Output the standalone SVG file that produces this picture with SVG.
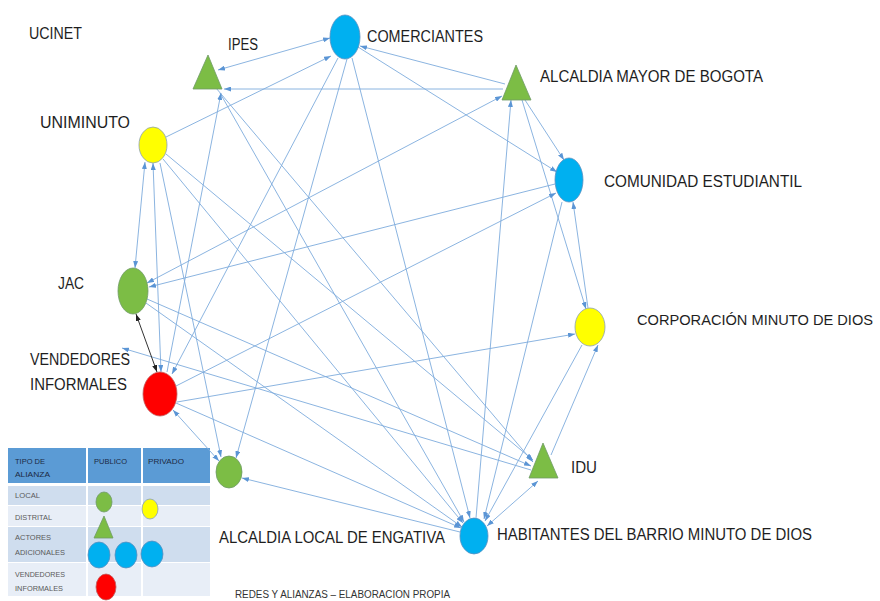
<svg xmlns="http://www.w3.org/2000/svg" width="880" height="601" viewBox="0 0 880 601">
<style>
.lbl{font-family:"Liberation Sans",Arial,sans-serif;font-size:16px;fill:#1e1e1e}
.e{stroke:#7EACDD;stroke-width:0.9;fill:none;marker-end:url(#ah)}
.b{marker-start:url(#ahs)}
.blue{fill:#00B0F0;stroke:#5a8fc0;stroke-width:0.8}
.yel{fill:#FFFF00;stroke:#8aa0b8;stroke-width:0.8}
.grn{fill:#7CBD45;stroke:#6f9a66;stroke-width:0.8}
.red{fill:#FF0000;stroke:#c06060;stroke-width:0.8}
.lt{font-family:"Liberation Sans",Arial,sans-serif;font-size:8px;fill:#5a5a5a}
.lh{font-family:"Liberation Sans",Arial,sans-serif;font-size:8px;fill:#1c2a44}
</style>
<defs>
<marker id="ah" viewBox="0 0 7 5" refX="7" refY="2.5" markerWidth="7" markerHeight="5" markerUnits="userSpaceOnUse" orient="auto"><path d="M0,0 L7,2.5 L0,5 z" fill="#5B95D5"/></marker>
<marker id="ahs" viewBox="0 0 7 5" refX="7" refY="2.5" markerWidth="7" markerHeight="5" markerUnits="userSpaceOnUse" orient="auto-start-reverse"><path d="M0,0 L7,2.5 L0,5 z" fill="#5B95D5"/></marker>
<marker id="bk" viewBox="0 0 7 5" refX="7" refY="2.5" markerWidth="7" markerHeight="5" markerUnits="userSpaceOnUse" orient="auto-start-reverse"><path d="M0,0 L7,2.5 L0,5 z" fill="#222"/></marker>
</defs>
<rect width="880" height="601" fill="#ffffff"/>
<text class="lbl" x="29" y="39" textLength="53" lengthAdjust="spacingAndGlyphs">UCINET</text>

<g id="legend">
<rect x="8" y="448" width="78" height="35" fill="#5B9BD5"/>
<rect x="88" y="448" width="53" height="35" fill="#5B9BD5"/>
<rect x="143" y="448" width="67" height="35" fill="#5B9BD5"/>
<rect x="8" y="486" width="78" height="19" fill="#CFDDEE"/>
<rect x="88" y="486" width="53" height="19" fill="#CFDDEE"/>
<rect x="143" y="486" width="67" height="19" fill="#CFDDEE"/>
<rect x="8" y="506" width="78" height="20" fill="#E8EEF7"/>
<rect x="88" y="506" width="53" height="20" fill="#E8EEF7"/>
<rect x="143" y="506" width="67" height="20" fill="#E8EEF7"/>
<rect x="8" y="527" width="78" height="35" fill="#CFDDEE"/>
<rect x="88" y="527" width="53" height="35" fill="#CFDDEE"/>
<rect x="143" y="527" width="67" height="35" fill="#CFDDEE"/>
<rect x="8" y="563" width="78" height="33" fill="#E8EEF7"/>
<rect x="88" y="563" width="53" height="33" fill="#E8EEF7"/>
<rect x="143" y="563" width="67" height="33" fill="#E8EEF7"/>
<text class="lh" x="15" y="464" textLength="30" lengthAdjust="spacingAndGlyphs">TIPO DE</text>
<text class="lh" x="15" y="477" textLength="35" lengthAdjust="spacingAndGlyphs">ALIANZA</text>
<text class="lh" x="94" y="464" textLength="33" lengthAdjust="spacingAndGlyphs">PUBLICO</text>
<text class="lh" x="148" y="464" textLength="36" lengthAdjust="spacingAndGlyphs">PRIVADO</text>
<text class="lt" x="15" y="498" textLength="25" lengthAdjust="spacingAndGlyphs">LOCAL</text>
<text class="lt" x="15" y="520" textLength="37" lengthAdjust="spacingAndGlyphs">DISTRITAL</text>
<text class="lt" x="15" y="540" textLength="36" lengthAdjust="spacingAndGlyphs">ACTORES</text>
<text class="lt" x="15" y="555" textLength="50" lengthAdjust="spacingAndGlyphs">ADICIONALES</text>
<text class="lt" x="15" y="577" textLength="50" lengthAdjust="spacingAndGlyphs">VENDEDORES</text>
<text class="lt" x="15" y="591" textLength="48" lengthAdjust="spacingAndGlyphs">INFORMALES</text>
<ellipse class="grn" cx="104" cy="502" rx="8" ry="10"/>
<ellipse class="yel" cx="150" cy="509" rx="8" ry="10"/>
<polygon class="grn" points="104,516 94,538 113,538"/>
<ellipse class="blue" cx="99" cy="555" rx="11" ry="13"/>
<ellipse class="blue" cx="126" cy="555" rx="11" ry="13"/>
<ellipse class="blue" cx="152" cy="554" rx="11" ry="13"/>
<ellipse class="red" cx="106" cy="587" rx="10" ry="13"/>
</g>

<g id="connectors">
<path class="e b" d="M218,70 L330,38"/>
<path class="e" d="M503,89 L224,89"/>
<path class="e" d="M505,84 L360,46"/>
<path class="e" d="M358,47 L557,172"/>
<path class="e" d="M166,137 L331,56"/>
<path class="e" d="M338,58 L172,374"/>
<path class="e" d="M347,59 L236,458"/>
<path class="e" d="M352,58 L470,518"/>
<path class="e" d="M220,93 L464,522"/>
<path class="e" d="M216,88 L533,462"/>
<path class="e" d="M167,372 L221,93"/>
<path class="e" d="M476,518 L511,100"/>
<path class="e" d="M525,100 L564,160"/>
<path class="e" d="M522,100 L586,309"/>
<path class="e" d="M588,308 L573,202"/>
<path class="e" d="M562,202 L484,519"/>
<path class="e b" d="M147,283 L502,96"/>
<path class="e" d="M176,386 L556,193"/>
<path class="e" d="M555,184 L149,287"/>
<path class="e b" d="M145,162 L135,268"/>
<path class="e b" d="M153,163 L161,372"/>
<path class="e" d="M160,163 L221,457"/>
<path class="e" d="M166,154 L533,460"/>
<path class="e" d="M163,159 L463,523"/>
<path class="e" d="M147,299 L531,466"/>
<path class="e" d="M146,303 L462,527"/>
<path class="e" d="M177,402 L575,334"/>
<path class="e" d="M531,470 L122,348"/>
<path class="e" d="M460,532 L242,478"/>
<path class="e" d="M176,403 L461,528"/>
<path class="e b" d="M487,526 L538,481"/>
<path class="e" d="M582,345 L485,521"/>
<path class="e" d="M551,455 L598,345"/>
<path class="e b" d="M219,461 L173,410"/>
<path d="M136,314 L157,372" stroke="#333" stroke-width="1" fill="none" marker-start="url(#bk)" marker-end="url(#bk)"/>
</g>

<g id="node-comerciantes">
<ellipse class="blue" cx="345" cy="37" rx="15" ry="22"/>
<text class="lbl" x="367" y="42" textLength="116" lengthAdjust="spacingAndGlyphs">COMERCIANTES</text>
</g>
<g id="node-ipes">
<polygon class="grn" points="208,55 193,89 222,89"/>
<text class="lbl" x="228" y="50" textLength="30" lengthAdjust="spacingAndGlyphs">IPES</text>
</g>
<g id="node-alcaldia-mayor">
<polygon class="grn" points="516,65 502,100 531,100"/>
<text class="lbl" x="540" y="82" textLength="223" lengthAdjust="spacingAndGlyphs">ALCALDIA MAYOR DE BOGOTA</text>
</g>
<g id="node-uniminuto">
<ellipse class="yel" cx="153" cy="145" rx="14" ry="18"/>
<text class="lbl" x="40" y="128" textLength="90" lengthAdjust="spacingAndGlyphs">UNIMINUTO</text>
</g>
<g id="node-comunidad">
<ellipse class="blue" cx="569" cy="180" rx="14" ry="22"/>
<text class="lbl" x="604" y="187" textLength="198" lengthAdjust="spacingAndGlyphs">COMUNIDAD ESTUDIANTIL</text>
</g>
<g id="node-jac">
<ellipse class="grn" cx="133" cy="291" rx="15" ry="23"/>
<text class="lbl" x="58" y="289" textLength="26" lengthAdjust="spacingAndGlyphs">JAC</text>
</g>
<g id="node-corporacion">
<ellipse class="yel" cx="590" cy="327" rx="15" ry="19"/>
<text class="lbl" x="637" y="325" font-size="14.4" style="font-size:14.4px" textLength="236" lengthAdjust="spacingAndGlyphs">CORPORACIÓN MINUTO DE DIOS</text>
</g>
<g id="node-vendedores">
<ellipse class="red" cx="160" cy="394" rx="17" ry="22"/>
<text class="lbl" x="30" y="365" textLength="100" lengthAdjust="spacingAndGlyphs">VENDEDORES</text>
<text class="lbl" x="30" y="390" textLength="97" lengthAdjust="spacingAndGlyphs">INFORMALES</text>
</g>
<g id="node-alcaldia-local">
<ellipse class="grn" cx="229" cy="472" rx="13" ry="16"/>
<text class="lbl" x="219" y="543" textLength="226" lengthAdjust="spacingAndGlyphs">ALCALDIA LOCAL DE ENGATIVA</text>
</g>
<g id="node-idu">
<polygon class="grn" points="543,443 529,478 558,478"/>
<text class="lbl" x="571" y="473" textLength="26" lengthAdjust="spacingAndGlyphs">IDU</text>
</g>
<g id="node-habitantes">
<ellipse class="blue" cx="474" cy="536" rx="14" ry="18"/>
<text class="lbl" x="497" y="540" textLength="315" lengthAdjust="spacingAndGlyphs">HABITANTES DEL BARRIO MINUTO DE DIOS</text>
</g>
<text x="235" y="598" font-family="Liberation Sans, Arial, sans-serif" font-size="10" fill="#333" textLength="215" lengthAdjust="spacingAndGlyphs">REDES Y ALIANZAS – ELABORACION PROPIA</text>
</svg>
